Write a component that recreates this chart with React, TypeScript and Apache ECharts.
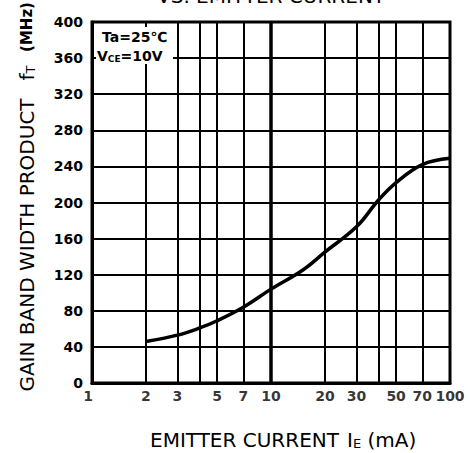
import React, { useEffect, useRef } from "react";
import * as echarts from "echarts";

// Data
const ieValues = [2, 3, 4, 5, 7, 10, 15, 20, 30, 40, 50, 70, 100];
const ftValues = [46, 53, 61, 69, 84, 104, 125, 145, 173, 203, 222, 242, 249];
const xTickLabels = [1, 2, 3, 5, 7, 10, 20, 30, 50, 70, 100];
const xGridMinor = [2, 3, 4, 5, 7, 20, 30, 40, 50, 70];
const xGridMajor = [10];
const yMin = 0;
const yMax = 400;
const yStep = 40;

const FONT = "DejaVu Sans";

export default function App() {
  const ref = useRef<HTMLDivElement>(null);

  useEffect(() => {
    if (!ref.current) return;
    const chart = echarts.init(ref.current, undefined, { renderer: "svg" });

    const curve = ieValues.map((x, i) => [x, ftValues[i]]);
    const labelPts = xTickLabels.map((v) =>
      v === 1 ? { value: [v, 0], label: { offset: [-4, 0] } } : { value: [v, 0] }
    );

    const option: any = {
      animation: false,
      backgroundColor: "#ffffff",
      grid: {
        left: 92,
        top: 22,
        width: 358,
        height: 361,
        show: true,
        borderColor: "#000",
        borderWidth: 3,
        backgroundColor: "transparent",
      },
      xAxis: {
        type: "log",
        logBase: 10,
        min: 1,
        max: 100,
        axisLine: { show: true, lineStyle: { color: "#000", width: 3 } },
        axisTick: { show: false },
        axisLabel: { show: false },
        splitLine: { show: false },
      },
      yAxis: {
        type: "value",
        min: yMin,
        max: yMax,
        interval: yStep,
        axisLine: { show: true, lineStyle: { color: "#000", width: 3 } },
        axisTick: { show: false },
        axisLabel: {
          color: "#000",
          fontFamily: FONT,
          fontWeight: "bold",
          fontSize: 14,
          margin: 9,
        },
        splitLine: { show: true, lineStyle: { color: "#000", width: 2 } },
      },
      series: [
        {
          type: "line",
          data: curve,
          smooth: 0.4,
          symbol: "none",
          lineStyle: { color: "#000", width: 3.5 },
          z: 5,
          markLine: {
            silent: true,
            symbol: "none",
            label: { show: false },
            lineStyle: { color: "#000", width: 2, type: "solid" },
            data: [
              ...xGridMinor.map((v) => ({ xAxis: v })),
              ...xGridMajor.map((v) => ({ xAxis: v, lineStyle: { width: 3.5, color: "#000", type: "solid" } })),
            ],
          },
        },
        {
          type: "scatter",
          data: labelPts,
          symbolSize: 1,
          itemStyle: { color: "transparent" },
          silent: true,
          label: {
            show: true,
            position: "bottom",
            distance: 5,
            color: "#000",
            fontFamily: FONT,
            fontWeight: "bold",
            fontSize: 14,
            formatter: (p: any) => String(p.value[0]),
          },
        },
      ],
      graphic: [
        // legend box
        {
          type: "rect",
          shape: { x: 96, y: 27, width: 77, height: 37 },
          style: { fill: "#fff" },
          z: 100,
        },
        {
          type: "text",
          x: 102,
          y: 37,
          z: 101,
          style: {
            text: "Ta=25℃",
            fill: "#000",
            font: `bold 14px "${FONT}"`,
            textVerticalAlign: "middle",
          },
        },
        {
          type: "text",
          x: 97,
          y: 56,
          z: 101,
          style: {
            text: "{a|V}{b|CE}{a|=10V}",
            fill: "#000",
            textVerticalAlign: "middle",
            rich: {
              a: { fontFamily: FONT, fontWeight: "bold", fontSize: 14, fill: "#000" },
              b: { fontFamily: FONT, fontWeight: "bold", fontSize: 9, fill: "#000", padding: [5, 0, 0, 0] },
            },
          },
        },
        // cut-off title at the top (as in the reference)
        {
          type: "text",
          x: 157,
          y: -4,
          style: {
            text: "VS. EMITTER CURRENT",
            fill: "#000",
            font: `20px "${FONT}"`,
            textVerticalAlign: "middle",
          },
        },
        // x-axis title
        {
          type: "text",
          x: 150,
          y: 440,
          style: {
            text: "EMITTER CURRENT",
            fill: "#000",
            font: `20px "${FONT}"`,
            textVerticalAlign: "middle",
          },
        },
        {
          type: "text",
          x: 347,
          y: 440,
          style: {
            text: "{a|I}{b|E}{a| (mA)}",
            fill: "#000",
            textVerticalAlign: "middle",
            rich: {
              a: { fontFamily: FONT, fontSize: 20, fill: "#000" },
              b: { fontFamily: FONT, fontSize: 13, fill: "#000", padding: [6, 0, 0, 0] },
            },
          },
        },
        // y-axis title (rotated)
        {
          type: "text",
          x: 27,
          y: 245,
          rotation: Math.PI / 2,
          style: {
            text: "GAIN BAND WIDTH PRODUCT",
            fill: "#000",
            font: `20px "${FONT}"`,
            textAlign: "center",
            textVerticalAlign: "middle",
          },
        },
        {
          type: "text",
          x: 27,
          y: 73,
          rotation: Math.PI / 2,
          style: {
            text: "{a|f}{b|T}",
            fill: "#000",
            textAlign: "center",
            textVerticalAlign: "middle",
            rich: {
              a: { fontFamily: FONT, fontSize: 20, fill: "#000" },
              b: { fontFamily: FONT, fontSize: 13, fill: "#000", padding: [6, 0, 0, 0] },
            },
          },
        },
        {
          type: "text",
          x: 27,
          y: 27,
          rotation: Math.PI / 2,
          style: {
            text: "(MHz)",
            fill: "#000",
            font: `bold 15px "${FONT}"`,
            textAlign: "center",
            textVerticalAlign: "middle",
          },
        },
      ],
    };

    chart.setOption(option);
    return () => chart.dispose();
  }, []);

  return (
    <div
      ref={ref}
      style={{ position: "absolute", left: 0, top: 0, width: 470, height: 453 }}
    />
  );
}
